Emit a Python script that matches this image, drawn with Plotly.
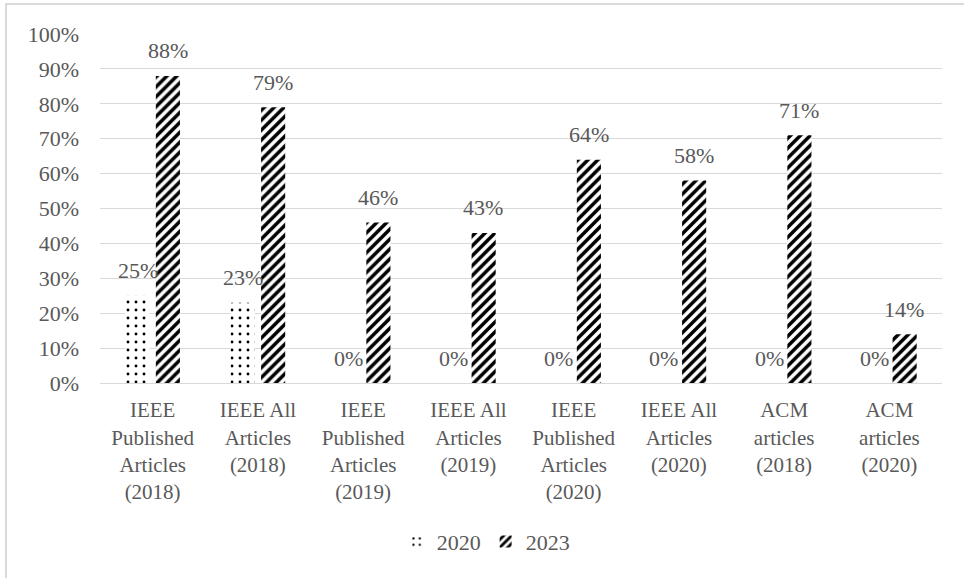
import plotly.graph_objects as go

categories = [
    "IEEE<br>Published<br>Articles<br>(2018)",
    "IEEE All<br>Articles<br>(2018)",
    "IEEE<br>Published<br>Articles<br>(2019)",
    "IEEE All<br>Articles<br>(2019)",
    "IEEE<br>Published<br>Articles<br>(2020)",
    "IEEE All<br>Articles<br>(2020)",
    "ACM<br>articles<br>(2018)",
    "ACM<br>articles<br>(2020)",
]
values_2020 = [0.25, 0.23, 0, 0, 0, 0, 0, 0]
values_2023 = [0.88, 0.79, 0.46, 0.43, 0.64, 0.58, 0.71, 0.14]
tick_vals = [i / 10 for i in range(11)]
tick_text = [f"{i*10}%" for i in range(11)]

FONT = "Liberation Serif, Times New Roman, serif"
GRAY = "#595959"
FS = 22

fig = go.Figure()
fig.add_trace(go.Bar(
    name="2020", x=categories, y=values_2020,
    marker=dict(color="white", line=dict(width=0),
                pattern=dict(shape=".", fgcolor="black", bgcolor="white",
                             fgopacity=1, size=8, solidity=0.1)),
))
fig.add_trace(go.Bar(
    name="2023", x=categories, y=values_2023,
    marker=dict(color="white", line=dict(width=0),
                pattern=dict(shape="/", fgcolor="black", bgcolor="white",
                             fgopacity=1, size=7, solidity=0.5)),
))

annotations = []
for series, shift in ((values_2020, -15), (values_2023, 15)):
    for cat, v in zip(categories, series):
        annotations.append(dict(
            x=cat, y=v, xref="x", yref="y", text=f"{round(v*100)}%",
            showarrow=False, xshift=shift, yshift=25, yanchor="middle",
            font=dict(family=FONT, size=FS, color=GRAY),
        ))

fig.update_layout(
    width=964, height=578,
    margin=dict(l=100, r=22, t=34, b=195),
    paper_bgcolor="white", plot_bgcolor="white",
    barmode="group", bargap=0.42, bargroupgap=0.21,
    font=dict(family=FONT, size=FS, color=GRAY),
    showlegend=True,
    legend=dict(orientation="h", x=0.458, xanchor="center", y=-0.455, yanchor="middle",
                font=dict(family=FONT, size=FS, color=GRAY), traceorder="normal"),
    annotations=annotations,
    shapes=[dict(type="rect", xref="paper", yref="paper",
                 x0=-0.1116, x1=1.3, y0=-1.0, y1=1.086,
                 line=dict(color="#d9d9d9", width=2), layer="below")],
)
fig.update_yaxes(range=[0, 1], tickvals=tick_vals, ticktext=tick_text,
                 showgrid=True, gridcolor="#d9d9d9", gridwidth=1.3,
                 zeroline=False, showline=False, ticks="", ticklabelstandoff=20,
                 tickfont=dict(family=FONT, size=FS, color=GRAY))
fig.update_xaxes(showline=True, linecolor="#d9d9d9", linewidth=1.3, ticks="",
                 tickangle=0, ticklabelstandoff=8,
                 tickfont=dict(family=FONT, size=21, color=GRAY))

fig.write_html("out.html")
